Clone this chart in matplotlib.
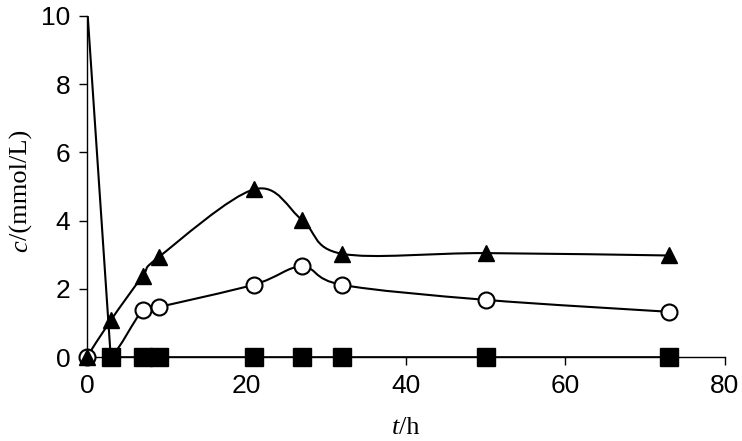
import numpy as np
import matplotlib.pyplot as plt
from matplotlib.path import Path
from matplotlib.patches import PathPatch

# data (t in h, c in mmol/L)
t_sq = [0, 3, 7, 9, 21, 27, 32, 50, 73]
c_sq = [10.4, 0, 0, 0, 0, 0, 0, 0, 0]

t_tri = [0, 3, 7, 9, 21, 27, 32, 50, 73]
c_tri = [0, 1.08, 2.38, 2.93, 4.92, 4.02, 3.03, 3.05, 2.98]

t_circ = [0, 3, 7, 9, 21, 27, 32, 50, 73]
c_circ = [0, 0, 1.38, 1.47, 2.13, 2.66, 2.12, 1.68, 1.33]

xticks = [0, 20, 40, 60, 80]
yticks = [0, 2, 4, 6, 8, 10]


def smooth_path(x, y):
    ##### excel-like smoothed line: cubic bezier through the points
    pts = np.column_stack([np.asarray(x, float), np.asarray(y, float)])
    n = len(pts)
    verts = [pts[0]]
    codes = [Path.MOVETO]
    for i in range(n - 1):
        p0 = pts[i - 1] if i > 0 else pts[i]
        p1 = pts[i]
        p2 = pts[i + 1]
        p3 = pts[i + 2] if i + 2 < n else pts[i + 1]
        c1 = p1 + (p2 - p0) / 6.0
        c2 = p2 - (p3 - p1) / 6.0
        verts += [c1, c2, p2]
        codes += [Path.CURVE4] * 3
    return Path(verts, codes)


plt.rcParams["font.family"] = "Liberation Sans"

fig = plt.figure(figsize=(7.42, 4.41), dpi=100)
ax = fig.add_axes([0.117, 0.190, 0.860, 0.774])

# circles: smoothed line, white markers
ax.add_patch(PathPatch(smooth_path(t_circ, c_circ), fill=False, ec='black', lw=1.5, zorder=2))
ax.plot(t_circ, c_circ, ls='none', marker='o', ms=11.5, mfc='white', mec='black', mew=1.5,
        zorder=3, clip_on=False)

# triangles: smoothed line
ax.add_patch(PathPatch(smooth_path(t_tri, c_tri), fill=False, ec='black', lw=1.5, zorder=2))
ax.plot(t_tri, c_tri, ls='none', marker='^', ms=11, mfc='black', mec='black',
        zorder=4, clip_on=False)

# squares: straight line, drawn last
ax.plot(t_sq, c_sq, color='black', lw=1.5, zorder=5)
ax.plot(t_sq[1:], c_sq[1:], ls='none', marker='s', ms=12.5, mfc='black', mec='black',
        zorder=6, clip_on=False)

ax.set_xlim(0, 80)
ax.set_ylim(0, 10)
ax.set_xticks(xticks)
ax.set_yticks(yticks)
ax.tick_params(axis='both', direction='out', length=6, width=1, labelsize=19, pad=6)

for side in ['top', 'right']:
    ax.spines[side].set_visible(False)
for side in ['left', 'bottom']:
    ax.spines[side].set_linewidth(1.0)

# axis titles: italic symbol + upright unit, Times-like
fig.text(0.538, 0.005, 't', fontsize=19, family='Liberation Serif', style='italic', ha='right', va='bottom')
fig.text(0.538, 0.005, '/h', fontsize=19, family='Liberation Serif', ha='left', va='bottom')
fig.text(0.014, 0.456, 'c', fontsize=19, family='Liberation Serif', style='italic', rotation=90, ha='left', va='top')
fig.text(0.014, 0.456, '/(mmol/L)', fontsize=19, family='Liberation Serif', rotation=90, ha='left', va='bottom')

fig.savefig('out.png', dpi=100)
